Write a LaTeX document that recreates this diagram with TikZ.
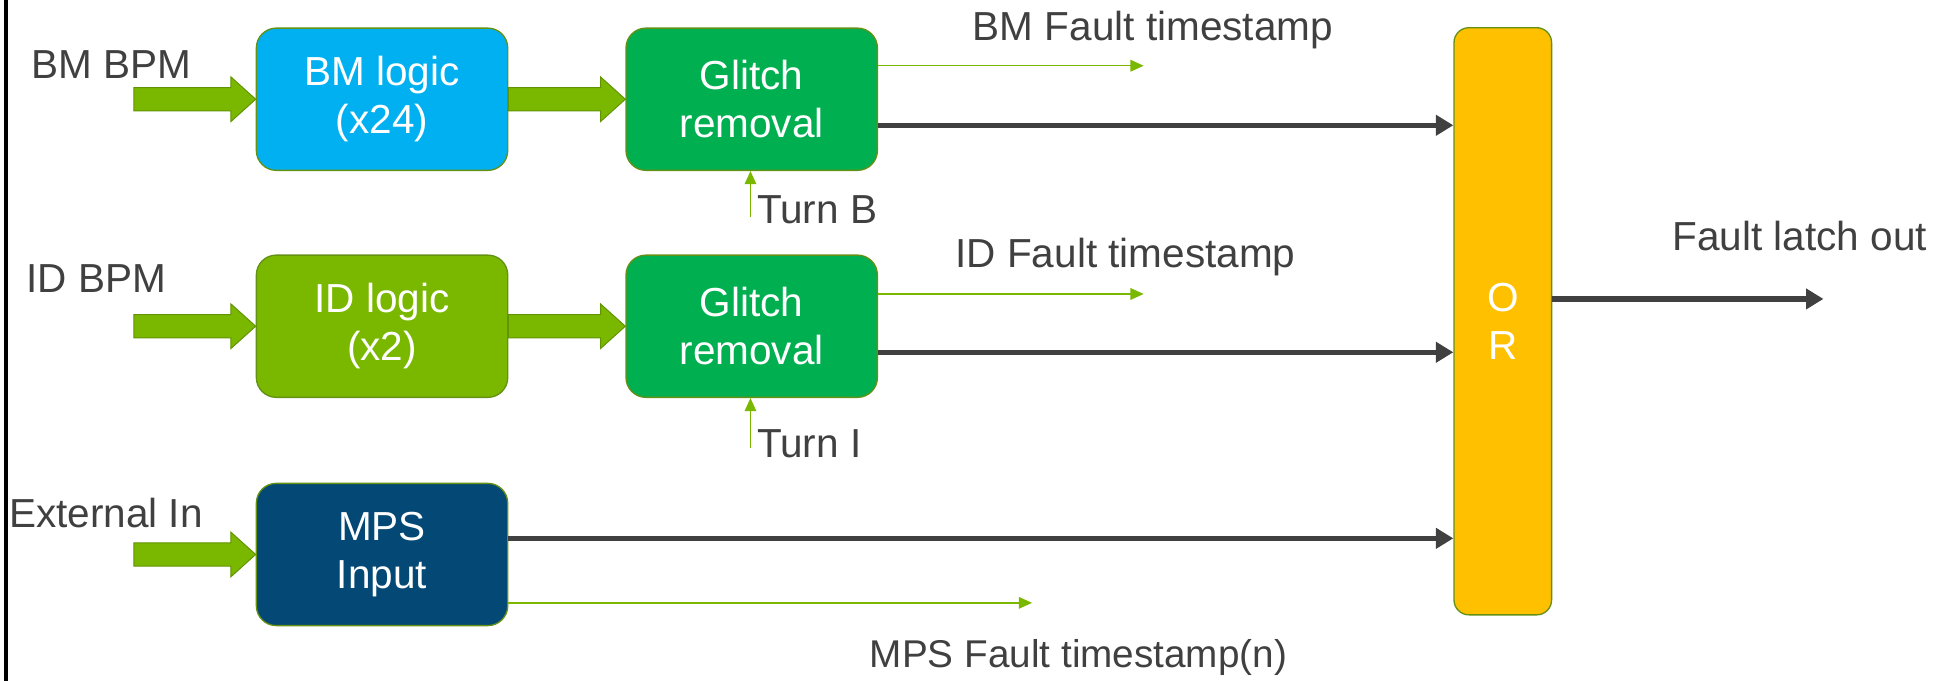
\documentclass[tikz,border=0pt]{standalone}
\usepackage{fontspec}
\setmainfont{Liberation Sans}
\usepackage{tikz}
\usetikzlibrary{shapes, arrows.meta, calc}

\definecolor{bmblue}{RGB}{0,176,240}
\definecolor{glitchgreen}{RGB}{0,176,80}
\definecolor{idlime}{RGB}{122,184,0}
\definecolor{mpsnavy}{RGB}{4,72,117}
\definecolor{orgold}{RGB}{255,192,0}
\definecolor{boxedge}{RGB}{100,145,20}
\definecolor{txtgray}{RGB}{64,64,64}

\tikzset{
  every node/.style={font=\fontsize{24.5}{29}\selectfont},
  blockbox/.style={rectangle, rounded corners=12pt, draw=boxedge, line width=0.8pt, minimum width=152pt, minimum height=86pt, align=center, text=white, inner sep=0pt},
  lbl/.style={text=txtgray, inner sep=0pt, anchor=base west},
  faultline/.style={draw=txtgray, line width=3.2pt, -{Triangle[length=10.5pt,width=12pt]}},
  stampline/.style={draw=idlime, line width=0.9pt, -{Triangle[length=8pt,width=7pt]}},
  fatarr/.style={fill=idlime, draw=idlime!80!black, line width=0.6pt},
}

% fat green arrow from #1 to #2 (horizontal)
\newcommand{\fatarrow}[2]{%
  \draw[fatarr] let \p1=(#1), \p2=(#2) in
    (\x1,\y1+7pt) -- (\x2-15pt,\y1+7pt) -- (\x2-15pt,\y1+13.5pt) -- (\x2,\y1)
    -- (\x2-15pt,\y1-13.5pt) -- (\x2-15pt,\y1-7pt) -- (\x1,\y1-7pt) -- cycle;}

\begin{document}
\begin{tikzpicture}[x=0.75pt,y=0.75pt,yscale=-1,xscale=1]
    \useasboundingbox (0,0) rectangle (1568,549);

    % left frame line
    \draw [line width=2.2pt] (5,0) -- (5,549);

    % blocks
    \node [blockbox, fill=bmblue] (bm) at (308,80) {BM logic\\(x24)};
    \node [blockbox, fill=glitchgreen] (g1) at (606,80) {Glitch\\removal};
    \node [blockbox, fill=idlime] (id) at (308,263) {ID logic\\(x2)};
    \node [blockbox, fill=glitchgreen] (g2) at (606,263) {Glitch\\removal};
    \node [blockbox, fill=mpsnavy] (mps) at (308,447) {MPS\\Input};
    \node [blockbox, fill=orgold, minimum width=59pt, minimum height=355pt, rounded corners=9pt] (or) at (1211.5,259) {O\\R};

    % text labels
    \node [lbl] (bmbpm) at (25,63) {BM BPM};
    \node [lbl] (idbpm) at (21,236) {ID BPM};
    \node [lbl] (extin) at (7,425) {External In};
    \node [lbl] (bmstamp) at (784,33) {BM Fault timestamp};
    \node [lbl] (idstamp) at (770,216) {ID Fault timestamp};
    \node [lbl, font=\fontsize{23.4}{28}\selectfont] (mpsstamp) at (701,538) {MPS Fault timestamp(n)};
    \node [lbl] (latch) at (1348,202) {Fault latch out};
    \node [lbl] (turnblbl) at (610,180) {Turn B};
    \node [lbl] (turnilbl) at (610,369) {Turn I};

    % free ends
    \coordinate (bmin) at (108,80);
    \coordinate (idin) at (108,263);
    \coordinate (extstart) at (108,447);
    \coordinate (bmstampend) at (922,53);
    \coordinate (idstampend) at (922,237);
    \coordinate (mpsstampend) at (832,486);
    \coordinate (latchend) at (1470,241);
    \coordinate (turnb) at (605,175);
    \coordinate (turni) at (605,361);

    % fat input arrows
    \fatarrow{bmin}{bm.west}
    \fatarrow{bm.east}{g1.west}
    \fatarrow{idin}{id.west}
    \fatarrow{id.east}{g2.west}
    \fatarrow{extstart}{mps.west}

    % timestamps
    \draw [stampline] (g1.east |- bmstampend) -- (bmstampend);
    \draw [stampline] (g2.east |- idstampend) -- (idstampend);
    \draw [stampline] (mps.east |- mpsstampend) -- (mpsstampend);
    \draw [stampline] (turnb) -- (turnb |- g1.south);
    \draw [stampline] (turni) -- (turni |- g2.south);

    % fault lines into OR
    \draw [faultline] ([yshift=15.75pt]g1.east) -- ([yshift=15.75pt]g1.east -| or.west);
    \draw [faultline] ([yshift=15.75pt]g2.east) -- ([yshift=15.75pt]g2.east -| or.west);
    \draw [faultline] ([yshift=-9.75pt]mps.east) -- ([yshift=-9.75pt]mps.east -| or.west);
    \draw [faultline] (or.east |- latchend) -- (latchend);
\end{tikzpicture}
\end{document}
